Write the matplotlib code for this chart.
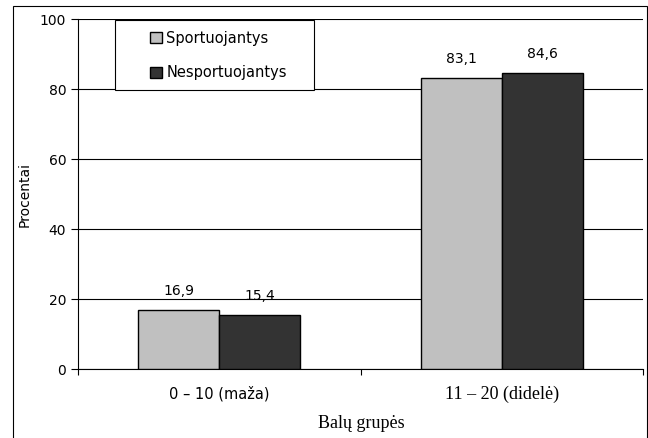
import matplotlib.pyplot as plt
import numpy as np
from matplotlib.patches import Rectangle

grupes = ['0 – 10 (maža)', '11 – 20 (didelė)']
sportuojantys = [16.9, 83.1]
nesportuojantys = [15.4, 84.6]
serijos = ['Sportuojantys', 'Nesportuojantys']

sans = 'DejaVu Sans'
serif = 'Liberation Serif'

fig = plt.figure(figsize=(6.48, 4.38), dpi=100)
ax = fig.add_axes([0.1204, 0.1575, 0.8719, 0.7991])

# outer chart frame
fig.patches.append(Rectangle((0.02, -0.1), 0.978, 1.0863, transform=fig.transFigure,
                             fill=False, edgecolor='black', linewidth=0.8))

x = np.arange(len(grupes))
w = 0.287
b1 = ax.bar(x - w / 2, sportuojantys, w, color='#c0c0c0', edgecolor='black',
            linewidth=1, label=serijos[0], zorder=3)
b2 = ax.bar(x + w / 2, nesportuojantys, w, color='#333333', edgecolor='black',
            linewidth=1, label=serijos[1], zorder=3)

for rects, vals in ((b1, sportuojantys), (b2, nesportuojantys)):
    for r, v in zip(rects, vals):
        ax.text(r.get_x() + r.get_width() / 2, v + 3.5, f'{v:.1f}'.replace('.', ','),
                ha='center', va='bottom', fontsize=10, family=sans)

ax.set_xlim(-0.5, 1.5)
ax.set_ylim(0, 100)
ax.set_yticks(np.arange(0, 101, 20))
ax.yaxis.grid(True, color='black', linewidth=0.8, zorder=0)
ax.set_axisbelow(True)

ax.set_xticks([-0.5, 0.5, 1.5])
ax.set_xticklabels([])
ax.set_xticks(x, minor=True)
ticklabels = ax.set_xticklabels(grupes, minor=True)
# first category label is sans, second serif
ticklabels[0].set_family(sans)
ticklabels[0].set_fontsize(10.5)
ticklabels[1].set_family(serif)
ticklabels[1].set_fontsize(13)
ax.tick_params(axis='x', which='minor', length=0, pad=12)
ax.tick_params(axis='x', which='major', length=4, direction='out')
ax.tick_params(axis='y', length=5, direction='out', labelsize=10)
for lab in ax.get_yticklabels():
    lab.set_family(sans)

for s in ('top', 'right'):
    ax.spines[s].set_visible(False)

ax.set_ylabel('Procentai', family=sans, fontsize=10, labelpad=6)
fig.text(0.557, 0.022, 'Balų grupės', ha='center', family=serif, fontsize=13)

# legend box drawn separately so the entries sit inset from its left edge
ax.add_patch(Rectangle((0.066, 0.797), 0.352, 0.2, transform=ax.transAxes,
                       facecolor='white', edgecolor='black', linewidth=0.8, zorder=4))
leg = ax.legend(loc='upper left', bbox_to_anchor=(0.115, 0.988), frameon=False,
                prop={'family': sans, 'size': 10.5},
                handlelength=0.8, handleheight=0.8, handletextpad=0.3,
                labelspacing=1.35, borderpad=0.5, borderaxespad=0)
leg.set_zorder(5)

fig.savefig('out.png', dpi=100)
